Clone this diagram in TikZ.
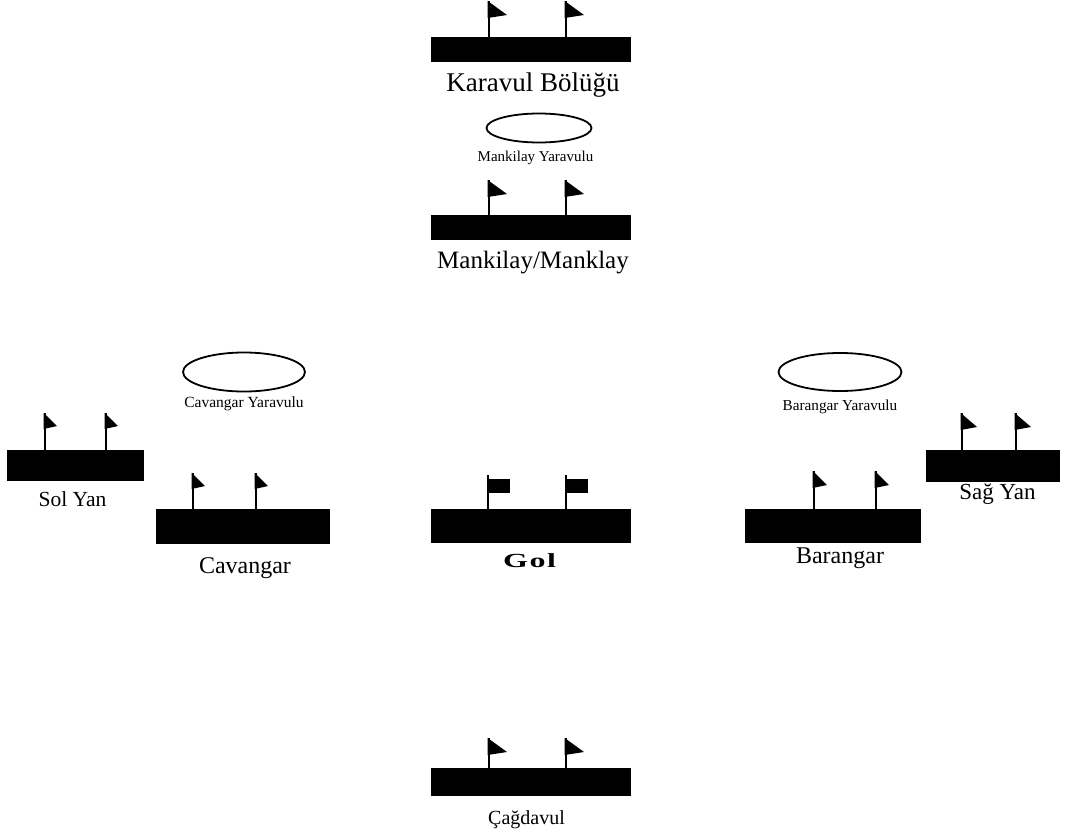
\documentclass[tikz,border=0pt]{standalone}
\usepackage{fontspec}
\setmainfont{Liberation Serif}
\usetikzlibrary{shapes.geometric}
\newcommand\mkflag[5]{%
  \draw[pole] (#1,#3) -- (#1,#2);
  \fill (#1-1.3,#2) -- (#1+#4,#2+#5) -- (#1-1.3,#2+#5+3) -- cycle;}
\newcommand\mkrflag[3]{%
  \draw[pole] (#1,#3) -- (#1,#2);
  \fill (#1-1.3,#2+4) rectangle (#1+22,#2+18);}
\newcommand\fsz[1]{\fontsize{#1}{#1}\selectfont}
\begin{document}
\begin{tikzpicture}[x=1pt,y=-1pt,
  bar/.style={fill=black,draw=none,inner sep=0pt,rectangle},
  camp/.style={ellipse,draw=black,line width=1.8pt,inner sep=0pt},
  pole/.style={line width=2.6pt},
  lbl/.style={anchor=base,inner sep=0pt,text=black}]
\fill[white] (0,0) rectangle (1066,838);
\useasboundingbox (0,0) rectangle (1066,838);

% Karavul
\node[bar,minimum width=200pt,minimum height=25pt] (karavul) at (531,49.5) {};
\mkflag{489}{1}{37}{18}{14}
\mkflag{566}{1}{37}{18}{14}
\node[lbl] (karavulL) at (533,91) {\fsz{27}Karavul Bölüğü};

% Mankilay Yaravulu
\node[camp,minimum width=105pt,minimum height=29pt] (mankY) at (539,128) {};
\node[lbl] (mankYL) at (535.5,161) {\fsz{15}Mankilay Yaravulu};

% Mankilay
\node[bar,minimum width=200pt,minimum height=25pt] (mank) at (531,227.5) {};
\mkflag{489}{180}{215}{18}{14}
\mkflag{566}{180}{215}{18}{14}
\node[lbl] (mankL) at (533,268) {\fsz{25}Mankilay/Manklay};

% Cavangar Yaravulu
\node[camp,minimum width=122pt,minimum height=39pt] (cavY) at (244,372) {};
\node[lbl] (cavYL) at (244,407) {\fsz{15.5}Cavangar Yaravulu};

% Barangar Yaravulu
\node[camp,minimum width=123pt,minimum height=38pt] (barY) at (840,372) {};
\node[lbl] (barYL) at (840,410) {\fsz{15.2}Barangar Yaravulu};

% Sol Yan
\node[bar,minimum width=137pt,minimum height=31pt] (sol) at (75.5,465.5) {};
\mkflag{45}{413}{450}{12}{13}
\mkflag{106}{413}{450}{12}{13}
\node[lbl] (solL) at (72.5,506) {\fsz{21.5}Sol Yan};

% Cavangar
\node[bar,minimum width=174pt,minimum height=35pt] (cav) at (243,526.5) {};
\mkflag{193}{473}{509}{12}{13}
\mkflag{256}{473}{509}{12}{13}
\node[lbl] (cavL) at (245,573) {\fsz{24}Cavangar};

% Gol
\node[bar,minimum width=200pt,minimum height=34pt] (gol) at (531,526) {};
\mkrflag{488}{475}{509}
\mkrflag{566}{475}{509}
\node[lbl] (golL) at (529.5,567) {\fsz{20}\scalebox{1.6}[1]{\bfseries G\kern1pt o\kern1pt l}};

% Barangar
\node[bar,minimum width=176pt,minimum height=34pt] (bar) at (833,526) {};
\mkflag{814}{471}{509}{13}{14}
\mkflag{876}{471}{509}{13}{14}
\node[lbl] (barL) at (840,563) {\fsz{24}Barangar};

% Sag Yan
\node[bar,minimum width=134pt,minimum height=32pt] (sag) at (993,466) {};
\mkflag{962}{413}{450}{15}{14}
\mkflag{1016}{413}{450}{15}{14}
\node[lbl] (sagL) at (997.5,499) {\fsz{23}Sağ Yan};

% Cagdavul
\node[bar,minimum width=200pt,minimum height=28pt] (cag) at (531,782) {};
\mkflag{489}{738}{768}{18}{14}
\mkflag{566}{738}{768}{18}{14}
\node[lbl] (cagL) at (526.5,824) {\fsz{20}Çağdavul};
\end{tikzpicture}
\end{document}
